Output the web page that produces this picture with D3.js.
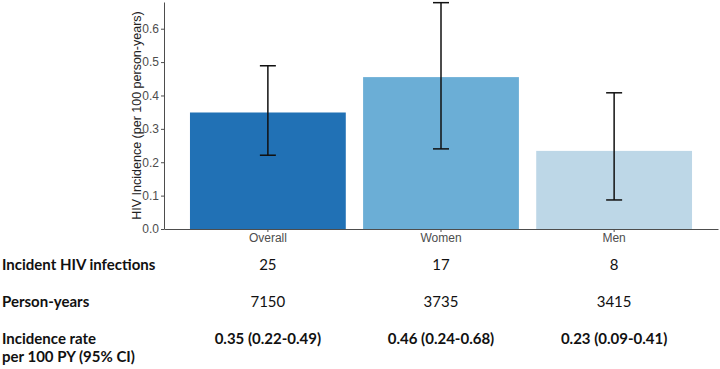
<!DOCTYPE html>
<html>
<head>
<meta charset="utf-8">
<script src="https://cdn.jsdelivr.net/npm/d3@7"></script>
<style>
  body { margin: 0; background: #fff; }
  svg { display: block; }
</style>
</head>
<body>
<div id="chart"></div>
<script>
// groups and values
var groups = ["Overall", "Women", "Men"];
var incidence = [0.349, 0.455, 0.234];
var ciLow = [0.221, 0.240, 0.087];
var ciHigh = [0.489, 0.678, 0.408];
var barColors = ["#2171b5", "#6baed6", "#bdd7e7"];
var yTicks = [0, 0.1, 0.2, 0.3, 0.4, 0.5, 0.6];

// table under the plot
var infections = ["25", "17", "8"];
var personYears = ["7150", "3735", "3415"];
var rateLabels = ["0.35 (0.22-0.49)", "0.46 (0.24-0.68)", "0.23 (0.09-0.41)"];

var w = 720, h = 369;
var svg = d3.select("#chart").append("svg")
    .attr("width", w)
    .attr("height", h);

var pLeft = 164, pRight = 718, pTop = 2, pBottom = 229;

var x = d3.scaleBand()
    .domain(groups)
    .range([pLeft, pRight])
    .paddingInner(0.1)
    .paddingOuter(0.15);

var y = d3.scaleLinear()
    .domain([0, 0.68])
    .range([pBottom, pTop]);

var rows = groups.map(function (g, i) {
    return { g: g, v: incidence[i], lo: ciLow[i], hi: ciHigh[i], c: barColors[i] };
});

svg.selectAll("rect.bar")
    .data(rows)
    .enter().append("rect")
    .attr("class", "bar")
    .attr("x", function (d) { return x(d.g); })
    .attr("width", x.bandwidth())
    .attr("y", function (d) { return y(d.v); })
    .attr("height", function (d) { return y(0) - y(d.v); })
    .attr("fill", function (d) { return d.c; });

// error bars
var capHalf = 8;
var eb = svg.selectAll("g.err")
    .data(rows)
    .enter().append("g")
    .attr("class", "err")
    .attr("stroke", "#111")
    .attr("stroke-width", 1.5);
eb.append("line")
    .attr("x1", function (d) { return x(d.g) + x.bandwidth() / 2; })
    .attr("x2", function (d) { return x(d.g) + x.bandwidth() / 2; })
    .attr("y1", function (d) { return y(d.lo); })
    .attr("y2", function (d) { return y(d.hi); });
eb.append("line")
    .attr("x1", function (d) { return x(d.g) + x.bandwidth() / 2 - capHalf; })
    .attr("x2", function (d) { return x(d.g) + x.bandwidth() / 2 + capHalf; })
    .attr("y1", function (d) { return y(d.hi); })
    .attr("y2", function (d) { return y(d.hi); });
eb.append("line")
    .attr("x1", function (d) { return x(d.g) + x.bandwidth() / 2 - capHalf; })
    .attr("x2", function (d) { return x(d.g) + x.bandwidth() / 2 + capHalf; })
    .attr("y1", function (d) { return y(d.lo); })
    .attr("y2", function (d) { return y(d.lo); });

// axes
var yAxis = svg.append("g")
    .attr("transform", "translate(" + pLeft + ",0)")
    .call(d3.axisLeft(y).tickValues(yTicks).tickFormat(d3.format(".1f")).tickSize(3).tickSizeOuter(0));
var xAxis = svg.append("g")
    .attr("transform", "translate(0," + pBottom + ")")
    .call(d3.axisBottom(x).tickSize(3).tickSizeOuter(0));

[yAxis, xAxis].forEach(function (a) {
    a.select(".domain").attr("stroke", "#4d4d4d").attr("stroke-width", 1);
    a.selectAll(".tick line").attr("stroke", "#4d4d4d");
    a.selectAll(".tick text")
        .attr("fill", "#4d4d4d")
        .style("font-family", "'Liberation Sans', Arial, sans-serif")
        .style("font-size", "12px");
});
yAxis.selectAll(".tick text").attr("x", -5);
xAxis.selectAll(".tick text").attr("y", 4);

svg.append("text")
    .attr("transform", "translate(141," + ((pTop + pBottom) / 2) + ") rotate(-90)")
    .attr("text-anchor", "middle")
    .style("font-family", "'Liberation Sans', Arial, sans-serif")
    .style("font-size", "12.5px")
    .attr("fill", "#222")
    .text("HIV Incidence (per 100 person-years)");

// table
var tableFont = "Lato, 'Open Sans', sans-serif";
var rowLabels = [
    { lines: ["Incident HIV infections"], y: 270 },
    { lines: ["Person-years"], y: 307 },
    { lines: ["Incidence rate", "per 100 PY (95% CI)"], y: 344 }
];
rowLabels.forEach(function (r) {
    r.lines.forEach(function (t, k) {
        svg.append("text")
            .attr("x", 2)
            .attr("y", r.y + k * 18)
            .style("font-family", tableFont)
            .style("font-size", "15px")
            .style("font-weight", "bold")
            .attr("fill", "#111")
            .text(t);
    });
});

function tableRow(vals, yy, bold) {
    svg.selectAll(null)
        .data(vals)
        .enter().append("text")
        .attr("x", function (d, i) { return x(groups[i]) + x.bandwidth() / 2; })
        .attr("y", yy)
        .attr("text-anchor", "middle")
        .style("font-family", tableFont)
        .style("font-size", "15px")
        .style("font-weight", bold ? "bold" : "normal")
        .attr("fill", "#111")
        .text(function (d) { return d; });
}
tableRow(infections, 270, false);
tableRow(personYears, 307, false);
tableRow(rateLabels, 344, true);
</script>
</body>
</html>
